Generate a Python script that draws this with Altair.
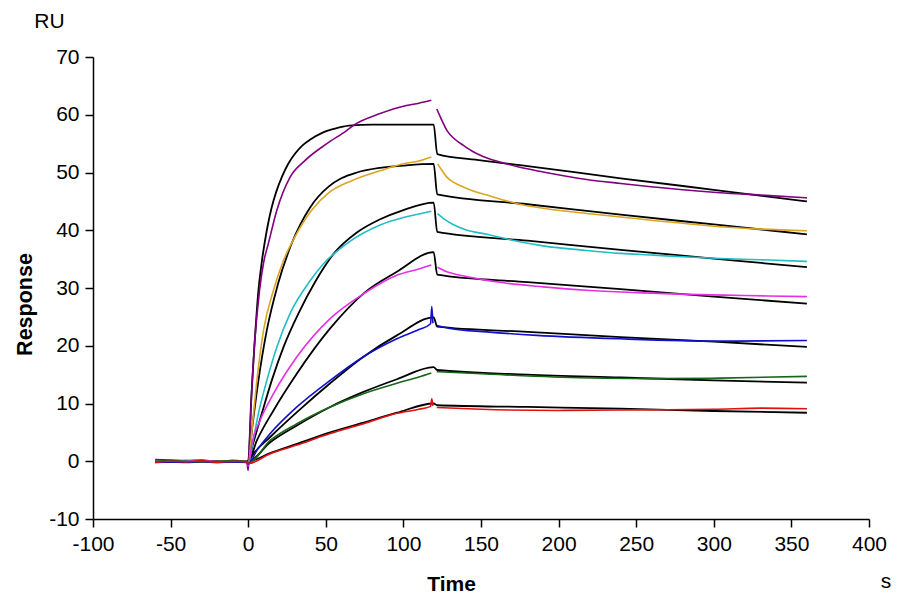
import altair as alt
import pandas as pd

# ---------------- data ----------------
curves = ["c1", "c2", "c3", "c4", "c5", "c6", "c7"]
colors = ["#800080", "#DAA520", "#20BEC6", "#E630E6", "#1010CC", "#17661A", "#E01010"]

base_t = [-60, -50, -40, -30, -20, -10, -1]

# association phase (incl. baseline) -- measured curves
a1_t = base_t + [0, 1, 2.4, 4, 7.3, 10, 13, 18.5, 27, 36.7, 50.7, 63.6, 68, 85, 102, 110, 118]
a1_y = [0.3, 0.2, 0.1, 0.2, 0.0, 0.1, 0.0, -1.6, 4, 13, 20, 29.6, 34.5, 37.7, 43.5, 49.2, 52.1, 55.0, 57.3, 58.2, 60.2, 61.6, 62.0, 62.5]
a2_t = base_t + [0, 2.4, 5.6, 9.9, 16.3, 22.8, 30, 41, 52, 66, 85, 100, 110, 118]
a2_y = [0.1, 0.0, 0.1, -0.1, 0.0, 0.1, 0.0, -0.5, 5.4, 14, 22.7, 29.6, 34.8, 38.8, 43.5, 46.5, 48.5, 50.3, 51.5, 52.0, 52.7]
a3_t = base_t + [0, 2.4, 6.6, 12, 18.5, 27, 40, 48.5, 63.6, 85, 100, 110, 118]
a3_y = [0.1, 0.0, 0.1, 0.0, -0.1, 0.0, 0.0, -0.5, 2.5, 8.3, 14, 19.8, 25.6, 31.3, 34.2, 37.7, 40.9, 42.2, 42.8, 43.3]
a4_t = base_t + [0, 2.4, 7.7, 16.3, 31.4, 52.8, 74.3, 95.8, 110, 118]
a4_y = [0.0, 0.1, 0.0, 0.1, 0.0, -0.1, 0.0, -0.8, 3.1, 7.1, 11.7, 18.1, 24.7, 29.0, 32.2, 33.3, 34.0]
a5_t = base_t + [0, 5.6, 14.2, 31.4, 52.8, 74.3, 95.8, 110, 117.5, 118.3, 119]
a5_y = [-0.2, -0.1, -0.2, -0.1, -0.2, -0.1, -0.2, -0.5, 1.9, 4.8, 9.4, 14.0, 18.1, 21.2, 22.8, 23.8, 26.8, 23.9]
a6_t = base_t + [0, 14.2, 31.4, 52.8, 74.3, 95.8, 110, 118]
a6_y = [0.0, 0.1, 0.0, -0.1, 0.0, 0.1, 0.0, -0.3, 3.6, 6.5, 9.4, 11.7, 13.5, 14.6, 15.3]
a7_t = base_t + [0, 14.2, 31.4, 52.8, 74.3, 95.8, 110, 117.5, 118.3, 119]
a7_y = [-0.2, 0.0, -0.1, 0.1, -0.2, 0.0, -0.1, -0.4, 1.3, 2.8, 4.8, 6.5, 8.3, 9.0, 9.5, 10.8, 9.6]

# dissociation phase -- measured curves
d1_t = [121.5, 124, 128, 133, 138.7, 145, 154, 165, 175, 190, 218, 240, 261, 280, 304, 330, 360]
d1_y = [61.0, 59.5, 57.3, 55.8, 54.7, 53.6, 52.5, 51.6, 50.9, 50.1, 48.8, 48.1, 47.5, 47.0, 46.5, 46.1, 45.6]
d2_t = [122, 125, 128, 133, 138.7, 145, 153.8, 165, 175, 190, 218, 240, 261, 280, 304, 330, 360]
d2_y = [51.5, 50.3, 49.2, 48.2, 47.5, 46.8, 46.1, 45.2, 44.5, 43.8, 42.9, 42.3, 41.7, 41.2, 40.6, 40.2, 39.9]
d3_t = [122, 127, 132, 140, 153.8, 165, 175, 190, 218, 240, 261, 280, 304, 330, 360]
d3_y = [42.9, 41.8, 41.0, 40.1, 39.3, 38.6, 38.0, 37.3, 36.5, 36.0, 35.7, 35.4, 35.1, 34.9, 34.6]
d4_t = [122, 128, 136.6, 150, 164.5, 190, 218, 250, 282.7, 320, 360]
d4_y = [33.6, 32.8, 32.2, 31.5, 30.9, 30.2, 29.6, 29.2, 28.9, 28.7, 28.5]
d5_t = [121.5, 130, 153.8, 186, 239.7, 304, 360]
d5_y = [23.5, 23.0, 22.4, 21.8, 21.2, 20.8, 20.9]
d6_t = [121.5, 153.8, 196.7, 261, 304, 360]
d6_y = [15.5, 15.1, 14.6, 14.3, 14.4, 14.7]
d7_t = [121.5, 150, 200, 250, 300, 330, 360]
d7_y = [9.3, 9.0, 8.8, 8.9, 9.0, 9.2, 9.1]

# fitted curves (black)
f1_t = [-60, 0, 2, 4, 6.6, 9, 12, 15, 18, 22, 26, 30, 35, 40, 48, 56, 65, 80, 119.5, 121.8, 150, 180, 240, 300, 360]
f1_y = [0, 0, 11, 20, 29.6, 35, 40, 43.8, 46.6, 49.4, 51.6, 53.2, 54.7, 55.7, 56.9, 57.6, 58.1, 58.3, 58.3, 53.2, 52.1, 51.1, 49.0, 47.0, 45.0]
f2_t = [-60, 0, 2.4, 6.6, 12, 19, 28, 40, 52, 60, 70, 85, 100, 119.5, 121.8, 180, 240, 300, 360]
f2_y = [0, 0, 5.4, 14, 22.7, 30.5, 37.7, 44.0, 47.6, 49.0, 50.0, 50.8, 51.2, 51.5, 46.2, 44.5, 42.7, 41.0, 39.3]
f3_t = [-60, 0, 3, 8.8, 15.2, 22.8, 32.4, 43, 55, 70, 85, 100, 119.5, 121.8, 180, 240, 300, 360]
f3_y = [0, 0, 2.9, 8.3, 14, 19.8, 25.6, 31.0, 35.9, 39.6, 41.9, 43.5, 44.8, 39.7, 38.2, 36.6, 35.1, 33.6]
f4_t = [-60, 0, 5.6, 16.3, 31.4, 52.8, 75, 95.8, 119.5, 121.8, 180, 240, 300, 360]
f4_y = [0, 0, 3.6, 8.8, 15.2, 23.0, 29.2, 32.8, 36.2, 32.3, 31.0, 29.8, 28.5, 27.3]
f5_t = [-60, 0, 3.4, 14.2, 31.4, 52.8, 74.3, 95.8, 119.5, 121.8, 180, 240, 300, 360]
f5_y = [0, 0, 1.3, 4.2, 8.5, 13.5, 18.1, 21.8, 24.9, 23.3, 22.4, 21.5, 20.7, 19.8]
f6_t = [-60, 0, 14.2, 31.4, 52.8, 74.3, 95.8, 119.5, 121.8, 180, 240, 300, 360]
f6_y = [0, 0, 3.3, 6.2, 9.4, 12.0, 14.2, 16.3, 15.8, 15.0, 14.5, 14.0, 13.6]
f7_t = [-60, 0, 14.2, 31.4, 52.8, 74.3, 95.8, 119.5, 121.8, 180, 240, 300, 360]
f7_y = [0, 0, 1.4, 3.0, 5.0, 6.7, 8.4, 10.0, 9.7, 9.4, 9.1, 8.7, 8.4]

x_ticks = list(range(-100, 401, 25))
y_ticks = list(range(-10, 71, 5))

# ---------------- tables ----------------
assoc = [(a1_t, a1_y), (a2_t, a2_y), (a3_t, a3_y), (a4_t, a4_y), (a5_t, a5_y), (a6_t, a6_y), (a7_t, a7_y)]
dissoc = [(d1_t, d1_y), (d2_t, d2_y), (d3_t, d3_y), (d4_t, d4_y), (d5_t, d5_y), (d6_t, d6_y), (d7_t, d7_y)]
fits = [(f1_t, f1_y), (f2_t, f2_y), (f3_t, f3_y), (f4_t, f4_y), (f5_t, f5_y), (f6_t, f6_y), (f7_t, f7_y)]

rows = []
for c, (at, ay), (dt, dy) in zip(curves, assoc, dissoc):
    for i, (t, y) in enumerate(zip(at, ay)):
        rows.append({"curve": c, "seg": c + "a", "t": t, "y": y, "i": i})
    for i, (t, y) in enumerate(zip(dt, dy)):
        rows.append({"curve": c, "seg": c + "d", "t": t, "y": y, "i": i})
meas = pd.DataFrame(rows)

frows = []
for c, (ft, fy) in zip(curves, fits):
    for i, (t, y) in enumerate(zip(ft, fy)):
        frows.append({"curve": c, "t": t, "y": y, "i": i})
fitdf = pd.DataFrame(frows)

FONT = "Liberation Sans"

xscale = alt.Scale(domain=[-100, 400], nice=False, zero=False)
yscale = alt.Scale(domain=[-10, 70], nice=False, zero=False)

xaxis = alt.Axis(
    values=x_ticks,
    labelExpr="datum.value % 50 === 0 ? '' + datum.value : ''",
    tickSize={"condition": {"test": "datum.value % 50 === 0", "value": 8}, "value": 4},
    grid=False, domainColor="black", domainWidth=1.5, tickColor="black", tickWidth=1.5,
    labelFont=FONT, labelFontSize=21, labelColor="black", labelPadding=6,
    labelOverlap=False, labelFlush=False,
    title="Time", titleFont=FONT, titleFontSize=21, titleFontWeight="bold", titleColor="black",
    titleX=358, titleY=71, titleBaseline="alphabetic", titleAlign="center",
)
yaxis = alt.Axis(
    values=y_ticks,
    labelExpr="datum.value % 10 === 0 ? '' + datum.value : ''",
    tickSize={"condition": {"test": "datum.value % 10 === 0", "value": 8}, "value": 4},
    grid=False, domainColor="black", domainWidth=1.5, tickColor="black", tickWidth=1.5,
    labelFont=FONT, labelFontSize=21, labelColor="black", labelPadding=6,
    labelOverlap=False, labelFlush=False,
    title="Response", titleFont=FONT, titleFontSize=21.5, titleFontWeight="bold", titleColor="black",
    titleAngle=270, titleX=-62, titleY=247, titleBaseline="alphabetic", titleAlign="center",
)

fitlines = alt.Chart(fitdf).mark_line(interpolate="monotone", strokeWidth=1.8, color="black").encode(
    x=alt.X("t:Q", scale=xscale, axis=xaxis),
    y=alt.Y("y:Q", scale=yscale, axis=yaxis),
    detail="curve:N", order="i:Q",
)

lines = alt.Chart(meas).mark_line(interpolate="monotone", strokeWidth=1.6).encode(
    x="t:Q",
    y="y:Q",
    color=alt.Color("curve:N", scale=alt.Scale(domain=curves, range=colors), legend=None),
    detail="seg:N",
    order="i:Q",
)

ru = alt.Chart(pd.DataFrame({"s": ["RU"]})).mark_text(
    font=FONT, fontSize=21, color="black", align="center", baseline="alphabetic"
).encode(x=alt.value(-43.5), y=alt.value(-29), text="s:N")

sec = alt.Chart(pd.DataFrame({"s": ["s"]})).mark_text(
    font=FONT, fontSize=21, color="black", align="center", baseline="alphabetic"
).encode(x=alt.value(793), y=alt.value(531), text="s:N")

chart = alt.layer(fitlines, lines, ru, sec).properties(
    width=776, height=462,
    autosize=alt.AutoSizeParams(type="none"),
    padding={"left": 85, "top": 49, "right": 23, "bottom": 78},
    background="white",
).configure_view(stroke=None)

chart.save("out.html", embed_options={"renderer": "svg", "actions": False})
